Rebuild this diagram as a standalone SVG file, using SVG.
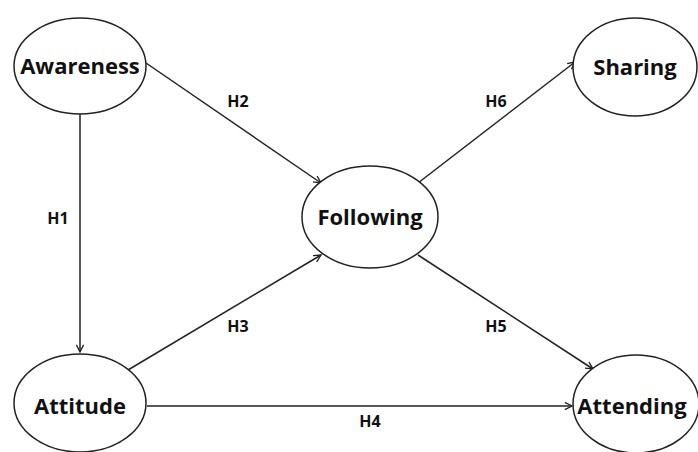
<svg xmlns="http://www.w3.org/2000/svg" width="698" height="452" viewBox="0 0 698 452">
<style>
.node{fill:#fff;stroke:#222;stroke-width:1.5}
.nl{font-family:"Open Sans","Liberation Sans",sans-serif;font-weight:bold;font-size:22px;fill:#111;text-anchor:middle}
.el{font-family:"Open Sans","Liberation Sans",sans-serif;font-weight:bold;font-size:16px;fill:#111;text-anchor:middle}
.edge{stroke:#222;stroke-width:1.5;fill:none;marker-end:url(#arr)}
</style>
<defs>
<marker id="arr" viewBox="0 0 10 10" refX="9" refY="5" markerWidth="9" markerHeight="9" markerUnits="userSpaceOnUse" orient="auto">
<path d="M1,1 L9,5 L1,9" fill="none" stroke="#222" stroke-width="1.5"/>
</marker>
</defs>
<rect width="698" height="452" fill="#fff"/>
<g id="edges">
<line class="edge" x1="146" y1="63" x2="321" y2="183"/>
<line class="edge" x1="80" y1="114" x2="80" y2="352"/>
<line class="edge" x1="128" y1="370" x2="321" y2="255"/>
<line class="edge" x1="147" y1="406" x2="572" y2="406"/>
<line class="edge" x1="418" y1="183" x2="575" y2="62"/>
<line class="edge" x1="418" y1="255" x2="593" y2="369"/>
<text class="el" x="238" y="107">H2</text>
<text class="el" x="496" y="107">H6</text>
<text class="el" x="58" y="224">H1</text>
<text class="el" x="238" y="332">H3</text>
<text class="el" x="496" y="332">H5</text>
<text class="el" x="370" y="427">H4</text>
</g>
<g id="awareness"><ellipse class="node" cx="80" cy="66" rx="66" ry="48"/><text class="nl" x="80" y="74">Awareness</text></g>
<g id="following"><ellipse class="node" cx="370" cy="217" rx="68" ry="51"/><text class="nl" x="370" y="225">Following</text></g>
<g id="sharing"><ellipse class="node" cx="635" cy="67" rx="62" ry="49"/><text class="nl" x="635" y="75">Sharing</text></g>
<g id="attitude"><ellipse class="node" cx="80" cy="403" rx="66" ry="49"/><text class="nl" x="80" y="414">Attitude</text></g>
<g id="attending"><ellipse class="node" cx="636" cy="404" rx="63" ry="49"/><text class="nl" x="632" y="414">Attending</text></g>
</svg>
